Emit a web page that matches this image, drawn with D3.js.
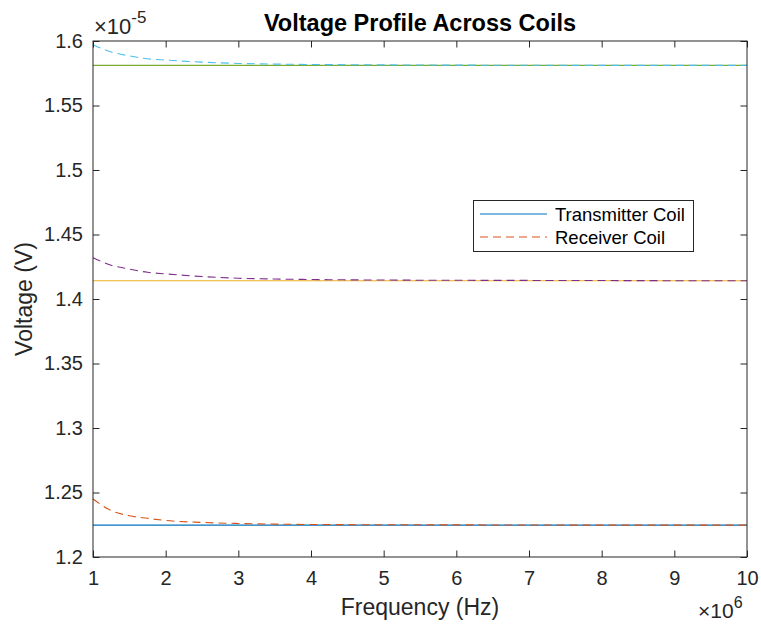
<!DOCTYPE html>
<html><head><meta charset="utf-8">
<script src="https://cdn.jsdelivr.net/npm/d3@7"></script>
<style>body{margin:0;background:#fff;} text{font-family:"Liberation Sans",Arial,Helvetica,sans-serif;}</style>
</head><body>
<svg id="chart" width="761" height="624"></svg>
<script>
// Data (voltage in units of 1e-5 V, frequency in units of 1e6 Hz)
const freq = [1, 1.25, 1.5, 1.75, 2, 2.5, 3, 3.5, 4, 5, 6, 7, 8, 9, 10];
const tx1 = [1.2247,1.2247,1.2247,1.2247,1.2247,1.2247,1.2247,1.2247,1.2247,1.2247,1.2247,1.2247,1.2247,1.2247,1.2247];
const rx1 = [1.2450,1.2360,1.2320,1.2300,1.2283,1.2268,1.2260,1.2255,1.2252,1.2250,1.2249,1.2248,1.2247,1.2247,1.2247];
const tx2 = [1.4142,1.4142,1.4142,1.4142,1.4142,1.4142,1.4142,1.4142,1.4142,1.4142,1.4142,1.4142,1.4142,1.4142,1.4142];
const rx2 = [1.4320,1.4262,1.4232,1.4207,1.4195,1.4174,1.4161,1.4155,1.4151,1.4147,1.4145,1.4144,1.4143,1.4142,1.4142];
const tx3 = [1.5811,1.5811,1.5811,1.5811,1.5811,1.5811,1.5811,1.5811,1.5811,1.5811,1.5811,1.5811,1.5811,1.5811,1.5811];
const rx3 = [1.5971,1.5915,1.5885,1.5862,1.5852,1.5836,1.5826,1.5821,1.5818,1.5815,1.5813,1.5812,1.5811,1.5811,1.5811];
const xTicks = [1,2,3,4,5,6,7,8,9,10];
const yTicks = [1.2,1.25,1.3,1.35,1.4,1.45,1.5,1.55,1.6];
const seriesNames = ["Transmitter Coil", "Receiver Coil"];

const series = [
  {v: tx1, color: "#0072BD", dash: null},
  {v: rx1, color: "#D95319", dash: "8,5"},
  {v: tx2, color: "#EDB120", dash: null},
  {v: rx2, color: "#7E2F8E", dash: "8,5"},
  {v: tx3, color: "#77AC30", dash: null},
  {v: rx3, color: "#4DBEEE", dash: "8,5"}
];

const svg = d3.select("#chart");
const L = 93, R = 747, T = 41, B = 557;
const axisColor = "#262626";
const x = d3.scaleLinear().domain([1, 10]).range([L, R]);
const y = d3.scaleLinear().domain([1.2, 1.6]).range([B, T]);

// lines
const line = d3.line().x((d, i) => x(freq[i])).y(d => y(d)).curve(d3.curveMonotoneX);
const plot = svg.append("g");
series.forEach(s => {
  plot.append("path").attr("d", line(s.v)).attr("fill", "none")
    .attr("stroke", s.color).attr("stroke-width", 1.1)
    .attr("stroke-dasharray", s.dash);
});

// axes
const tickLen = 6.5;
const fs = 20;
const font = '"Liberation Sans", Arial, sans-serif';
const xb = d3.axisBottom(x).tickValues(xTicks).tickSize(-tickLen).tickPadding(14).tickFormat(d3.format("d"));
const xt = d3.axisTop(x).tickValues(xTicks).tickSize(-tickLen).tickFormat("");
const yl = d3.axisLeft(y).tickValues(yTicks).tickSize(-tickLen).tickPadding(10).tickFormat(d => String(+d.toFixed(2)));
const yr = d3.axisRight(y).tickValues(yTicks).tickSize(-tickLen).tickFormat("");

function style(g) {
  g.select(".domain").remove();
  g.selectAll(".tick line").attr("stroke", axisColor);
  g.selectAll(".tick text").attr("fill", axisColor).style("font-size", fs + "px").style("font-family", font);
}
svg.append("g").attr("transform", `translate(0,${B})`).call(xb).call(style);
svg.append("g").attr("transform", `translate(0,${T})`).call(xt).call(style);
svg.append("g").attr("transform", `translate(${L},0)`).call(yl).call(style);
svg.append("g").attr("transform", `translate(${R},0)`).call(yr).call(style);
svg.append("rect").attr("x", L).attr("y", T).attr("width", R - L).attr("height", B - T)
  .attr("fill", "none").attr("stroke", axisColor).attr("stroke-width", 1);

// title
svg.append("text").attr("x", (L + R) / 2).attr("y", 31).attr("text-anchor", "middle")
  .style("font-size", "23.5px").style("font-weight", "bold").attr("fill", "#000")
  .text("Voltage Profile Across Coils");

// labels
svg.append("text").attr("x", (L + R) / 2).attr("y", 615).attr("text-anchor", "middle")
  .style("font-size", "23px").attr("fill", axisColor).text("Frequency (Hz)");
svg.append("text").attr("transform", `translate(32,${(T + B) / 2}) rotate(-90)`).attr("text-anchor", "middle")
  .style("font-size", "23px").attr("fill", axisColor).text("Voltage (V)");

// exponent labels
const e1 = svg.append("text").attr("x", 94).attr("y", 34).style("font-size", "22px").attr("fill", axisColor);
e1.append("tspan").text("×10");
e1.append("tspan").attr("dy", -11).style("font-size", "17px").text("-5");
const e2 = svg.append("text").attr("x", 698).attr("y", 618).style("font-size", "21px").attr("fill", axisColor);
e2.append("tspan").text("×10");
e2.append("tspan").attr("dy", -10).style("font-size", "16px").text("6");

// legend
const lg = svg.append("g");
lg.append("rect").attr("x", 473.5).attr("y", 200.5).attr("width", 220).attr("height", 51)
  .attr("fill", "#fff").attr("stroke", axisColor).attr("stroke-width", 1);
const legendItems = [series[0], series[1]];
legendItems.forEach((s, i) => {
  const yy = 214 + i * 23;
  lg.append("line").attr("x1", 480).attr("x2", 547).attr("y1", yy).attr("y2", yy)
    .attr("stroke", s.color).attr("stroke-width", 1.1).attr("stroke-dasharray", s.dash);
  lg.append("text").attr("x", 555).attr("y", yy + 7).style("font-size", "18.5px").attr("fill", "#000")
    .text(seriesNames[i]);
});
</script>
</body></html>
